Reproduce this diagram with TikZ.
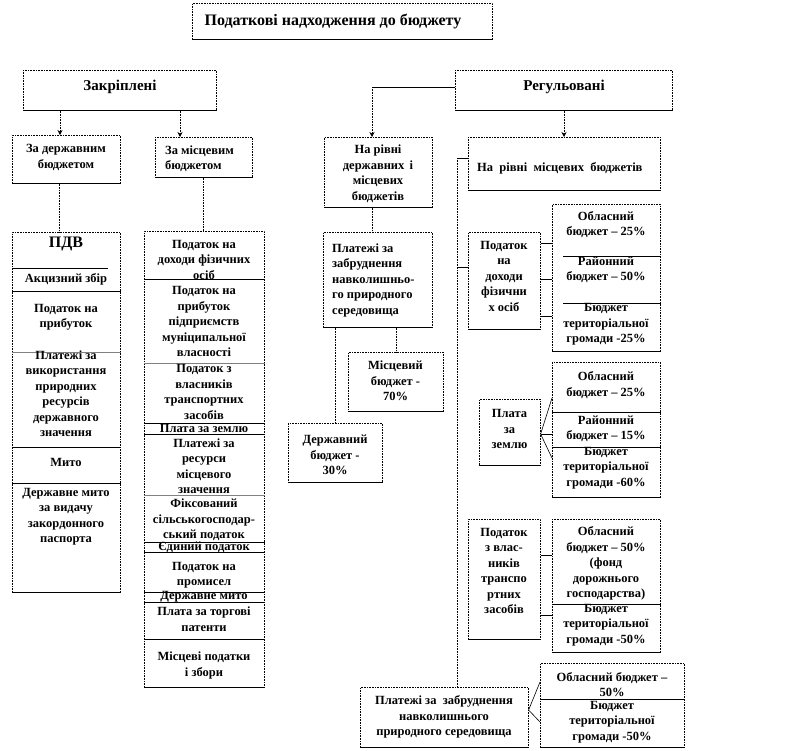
\documentclass[tikz,border=0pt]{standalone}
\usepackage{fontspec}
\setmainfont{Liberation Serif}
\usetikzlibrary{arrows.meta}
\newcommand\bodyfont{\fontsize{12.5}{15.5}\selectfont\bfseries}
\newcommand\Bx[5]{\node[box, anchor=north west, minimum width={(#4-#2)*1pt}, minimum height={(#5-#3)*1pt}] (#1) at (#2,#3) {};\draw[bot] (#1.south west) -- (#1.south east);}
\newcommand\Dv[3][black]{\draw[#1,line width=.6pt] (#2.west |- 0,#3) -- (#2.east |- 0,#3);}
\tikzset{
  box/.style={draw=black, densely dotted, line width=0.6pt, inner sep=0pt},
  bot/.style={draw=black, line width=0.8pt},
  txt/.style={align=center, inner sep=0pt, font=\bodyfont},
  ltxt/.style={align=left, inner sep=0pt, font=\bodyfont, anchor=west},
  arr/.style={densely dotted, line width=0.6pt, -{Stealth[length=5pt,width=5pt]}},
  dl/.style={densely dotted, line width=0.6pt},
  hl/.style={line width=0.6pt},
}
\begin{document}
\begin{tikzpicture}[x=1pt,y=-1pt]
\useasboundingbox (0,0) rectangle (792,750);
% top level
\Bx{title}{192}{3}{492}{39}
\node[inner sep=0pt, font=\fontsize{16}{18}\selectfont\bfseries] (titlet) at (333,21) {Податкові надходження до бюджету};
\Bx{zak}{23}{70}{216}{110}
\node[inner sep=0pt, font=\fontsize{15}{18}\selectfont\bfseries] (zakt) at (120,87) {Закріплені};
\Bx{reg}{455}{70}{672}{110}
\node[inner sep=0pt, font=\fontsize{15}{18}\selectfont\bfseries] (regt) at (564,87) {Регульовані};
% second level
\Bx{dz}{12}{135}{120}{183}
\node[txt] (dzt) at (66,157.5) {За державним\\бюджетом};
\Bx{dm}{155}{137}{252}{177}
\node[ltxt] (dmt) at (165,158.5) {За місцевим\\бюджетом};
\Bx{rdm}{324}{137}{432}{207}
\node[txt] (rdmt) at (378,173.5) {На рівні\\державних\, і\\місцевих\\бюджетів};
\Bx{rml}{468}{137}{660}{190}
\node[ltxt] (rmlt) at (477,168) {На\ \ рівні\ \ місцевих\ \ бюджетів};
\draw[arr] (zak.south -| 60,0) -- (dz.north -| 60,0);
\draw[arr] (zak.south -| 180,0) -- (dm.north -| 180,0);
\draw[hl] (reg.west |- 0,87) -- (372,87);
\draw[arr] (372,87) -- (rdm.north -| 372,0);
\draw[arr] (reg.south -| 564,0) -- (rml.north -| 564,0);
% column 1
\Bx{col1}{12}{232}{120}{592}
\draw[dl] (dz.south -| 59,0) -- (col1.north -| 59,0);
\draw[line width=.6pt] (12,268) -- (108,268);
\Dv{col1}{291}
\Dv[gray]{col1}{352}
\Dv{col1}{447}
\Dv{col1}{483}
\node[inner sep=0pt, font=\fontsize{16}{18}\selectfont\bfseries] (c1a) at (66,244) {ПДВ};
\node[txt] (c1b) at (66,279) {Акцизний збір};
\node[txt] (c1c) at (66,317) {Податок на\\прибуток};
\node[txt] (c1d) at (66,393.5) {Платежі за\\використання\\природних\\ресурсів\\державного\\значення};
\node[txt] (c1e) at (66,462) {Мито};
\node[txt] (c1f) at (66,516.5) {Державне мито\\за видачу\\закордонного\\паспорта};
% column 2
\Bx{col2}{144}{231}{264}{687}
\draw[dl] (dm.south -| 203,0) -- (col2.north -| 203,0);
\Dv{col2}{279}
\Dv[gray]{col2}{363}
\Dv{col2}{423}
\Dv{col2}{434}
\Dv[gray]{col2}{495}
\Dv{col2}{542}
\Dv{col2}{552}
\Dv{col2}{592}
\Dv{col2}{602}
\Dv{col2}{639}
\node[txt] (c2a) at (204,259.5) {Податок на\\доходи фізичних\\осіб};
\node[txt] (c2b) at (204,321.5) {Податок на\\прибуток\\підприємств\\муніципальної\\власності};
\node[txt] (c2c) at (204,392) {Податок з\\власників\\транспортних\\засобів};
\node[txt] (c2d) at (204,428.5) {Плата за землю};
\node[txt] (c2e) at (204,466) {Платежі за\\ресурси\\місцевого\\значення};
\node[txt] (c2f) at (204,520) {Фіксований\\сільськогосподар-\\ський податок};
\node[txt] (c2g) at (204,547) {Єдиний податок};
\node[txt] (c2h) at (204,575) {Податок на\\промисел};
\node[txt] (c2i) at (204,597) {Державне мито};
\node[txt] (c2j) at (204,619) {Плата за торгові\\патенти};
\node[txt] (c2k) at (204,665.5) {Місцеві податки\\і збори};
% middle
\Bx{pz}{323}{232}{432}{327}
\node[ltxt] (pzt) at (332,280) {Платежі\ за\\забруднення\\навколишньо-\\го природного\\середовища};
\draw[dl] (rdm.south -| 372,0) -- (pz.north -| 372,0);
\Bx{mb}{348}{352}{443}{411}
\node[txt] (mbt) at (395.5,381) {Місцевий\\бюджет -\\70\%};
\Bx{db}{288}{423}{382}{482}
\node[txt] (dbt) at (335,455) {Державний\\бюджет -\\30\%};
\draw[dl] (pz.south -| 396,0) -- (mb.north -| 396,0);
\draw[dl] (pz.south -| 335,0) -- (db.north -| 335,0);
% right side
\Bx{pd}{468}{232}{540}{329}
\node[txt] (pdt) at (504,276) {Податок\\на\\доходи\\фізични\\х осіб};
\Bx{r1}{552}{204}{660}{351}
\draw[line width=.6pt] (563,256) -- (r1.east |- 0,256);
\draw[line width=.6pt] (563,303) -- (r1.east |- 0,303);
\node[txt] (r1a) at (606,224.5) {Обласний\\бюджет -- 25\%};
\node[txt] (r1b) at (606,270) {Районний\\бюджет -- 50\%};
\node[txt] (r1c) at (606,324.5) {Бюджет\\територіальної\\громади -25\%};
\draw[hl] (pd.east |- 0,243) -- (r1.west |- 0,243);
\draw[hl] (pd.east |- 0,279) -- (r1.west |- 0,279);
\draw[hl] (pd.east |- 0,316) -- (r1.west |- 0,316);
\Bx{pzm}{479}{399}{540}{465}
\node[txt] (pzmt) at (509.5,429) {Плата\\за\\землю};
\Bx{r2}{552}{362}{660}{497}
\Dv{r2}{412}
\Dv{r2}{447}
\node[txt] (r2a) at (606,385) {Обласний\\бюджет -- 25\%};
\node[txt] (r2b) at (606,429) {Районний\\бюджет -- 15\%};
\node[txt] (r2c) at (606,468) {Бюджет\\територіальної\\громади -60\%};
\draw[hl] (pzm.east |- 0,434) -- (r2.west |- 0,398);
\draw[hl] (pzm.east |- 0,434) -- (r2.west |- 0,434);
\draw[hl] (pzm.east |- 0,434) -- (r2.west |- 0,458);
\Bx{pt}{468}{519}{540}{639}
\node[txt] (ptt) at (504,571) {Податок\\з влас-\\ників\\транспо\\ртних\\засобів};
\Bx{r3}{552}{519}{660}{652}
\Dv{r3}{604}
\node[txt] (r3a) at (606,563.5) {Обласний\\бюджет -- 50\%\\(фонд\\дорожнього\\господарства)};
\node[txt] (r3b) at (606,625) {Бюджет\\територіальної\\громади -50\%};
\draw[hl] (pt.east |- 0,555) -- (r3.west |- 0,555);
\draw[hl] (pt.east |- 0,615) -- (r3.west |- 0,615);
% bottom
\Bx{pl}{360}{687}{528}{747}
\node[txt] (plt) at (444,717) {Платежі за\ \ забруднення\\навколишнього\\природного середовища};
\Bx{r4}{540}{663}{684}{747}
\Dv{r4}{699}
\node[txt] (r4a) at (612,684.5) {Обласний бюджет --\\50\%};
\node[txt] (r4b) at (612,722) {Бюджет\\територіальної\\громади -50\%};
\draw[hl] (pl.east |- 0,710) -- (r4.west |- 0,682);
\draw[hl] (pl.east |- 0,710) -- (r4.west |- 0,722);
% bus
\coordinate (bus) at (457,158);
\draw[hl] (rml.west |- bus) -- (bus);
\draw[dl] (bus) -- (bus |- pl.north);
\draw[hl] (bus |- 0,267) -- (pd.west |- 0,267);
\end{tikzpicture}
\end{document}
